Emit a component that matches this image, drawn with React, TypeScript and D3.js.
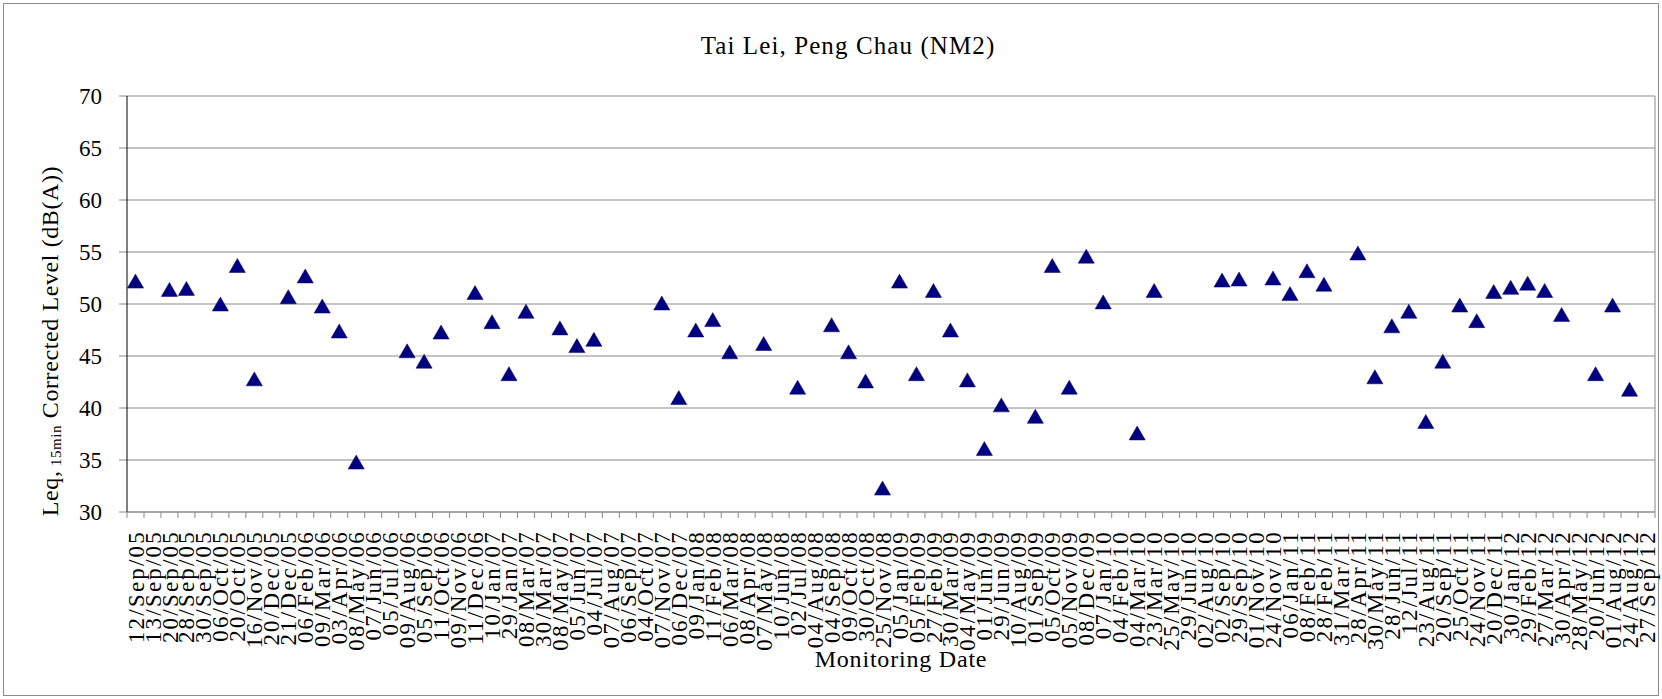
import React from "react";
import * as d3 from "d3";

const TITLE = "Tai Lei, Peng Chau (NM2)";
const X_TITLE = "Monitoring Date";

const dates: string[] = [
  "12/Sep/05", "13/Sep/05", "20/Sep/05", "28/Sep/05", "30/Sep/05", "06/Oct/05", "20/Oct/05", "16/Nov/05",
  "20/Dec/05", "21/Dec/05", "06/Feb/06", "09/Mar/06", "03/Apr/06", "08/May/06", "07/Jun/06", "05/Jul/06",
  "09/Aug/06", "05/Sep/06", "11/Oct/06", "09/Nov/06", "11/Dec/06", "10/Jan/07", "29/Jan/07", "08/Mar/07",
  "30/Mar/07", "08/May/07", "05/Jun/07", "04/Jul/07", "07/Aug/07", "06/Sep/07", "04/Oct/07", "07/Nov/07",
  "06/Dec/07", "09/Jan/08", "11/Feb/08", "06/Mar/08", "08/Apr/08", "07/May/08", "10/Jun/08", "02/Jul/08",
  "04/Aug/08", "04/Sep/08", "09/Oct/08", "30/Oct/08", "25/Nov/08", "05/Jan/09", "05/Feb/09", "27/Feb/09",
  "30/Mar/09", "04/May/09", "01/Jun/09", "29/Jun/09", "10/Aug/09", "01/Sep/09", "05/Oct/09", "05/Nov/09",
  "08/Dec/09", "07/Jan/10", "04/Feb/10", "04/Mar/10", "23/Mar/10", "25/May/10", "29/Jun/10", "02/Aug/10",
  "02/Sep/10", "29/Sep/10", "01/Nov/10", "24/Nov/10", "06/Jan/11", "08/Feb/11", "28/Feb/11", "31/Mar/11",
  "28/Apr/11", "30/May/11", "28/Jun/11", "12/Jul/11", "23/Aug/11", "20/Sep/11", "25/Oct/11", "24/Nov/11",
  "20/Dec/11", "30/Jan/12", "29/Feb/12", "27/Mar/12", "30/Apr/12", "28/May/12", "20/Jun/12", "01/Aug/12",
  "24/Aug/12", "27/Sep/12",
];

const leq: (number | null)[] = [
  52.2, null, 51.4, 51.5, null, 50.0, 53.7, 42.8,
  null, 50.7, 52.7, 49.8, 47.4, 34.8, null, null,
  45.5, 44.5, 47.3, null, 51.1, 48.3, 43.3, 49.3,
  null, 47.7, 46.0, 46.6, null, null, null, 50.1,
  41.0, 47.5, 48.5, 45.4, null, 46.2, null, 42.0,
  null, 48.0, 45.4, 42.6, 32.3, 52.2, 43.3, 51.3,
  47.5, 42.7, 36.1, 40.3, null, 39.2, 53.7, 42.0,
  54.6, 50.2, null, 37.6, 51.3, null, null, null,
  52.3, 52.4, null, 52.5, 51.0, 53.2, 51.9, null,
  54.9, 43.0, 47.9, 49.3, 38.7, 44.5, 49.9, 48.4,
  51.2, 51.6, 52.0, 51.3, 49.0, null, 43.3, 49.9,
  41.8, null,
];

const yTicks: number[] = [30, 35, 40, 45, 50, 55, 60, 65, 70];

const W = 1662;
const H = 699;
const FONT = "'Liberation Serif', 'Times New Roman', serif";

export default function App() {
  const left = 127, right = 1655, top = 96, bottom = 512;
  const x = d3.scaleBand<string>().domain(dates).range([left, right]).padding(0);
  const y = d3.scaleLinear().domain([30, 70]).range([bottom, top]);
  const bw = x.bandwidth();
  const triSize = 113;
  const tri = d3.symbol().type(d3.symbolTriangle).size(triSize)() as string;
  const r = Math.sqrt(triSize / (Math.sqrt(3) * 3));

  const boundaries = d3.range(dates.length + 1).map((i) => left + i * bw);
  const pts = dates
    .map((d, i) => ({ d, v: leq[i] }))
    .filter((p) => p.v !== null) as { d: string; v: number }[];

  return (
    <svg
      width={W}
      height={H}
      style={{ position: "absolute", left: 0, top: 0, background: "#fff" }}
      fontFamily={FONT}
    >
      <rect x={3.5} y={3.5} width={1655} height={692} fill="#fff" stroke="#8c8c8c" strokeWidth={1} />

      <text x={848} y={54} textAnchor="middle" fontSize={25} letterSpacing={1.1} fill="#000">
        {TITLE}
      </text>

      {/* gridlines */}
      {yTicks.map((t) => (
        <line key={"g" + t} x1={left - 8} x2={right} y1={y(t)} y2={y(t)} stroke="#8a8a8a" strokeWidth={1} />
      ))}
      {/* plot right border */}
      <line x1={right} x2={right} y1={top} y2={bottom} stroke="#8a8a8a" strokeWidth={1} />
      {/* y axis */}
      <line x1={left} x2={left} y1={top} y2={bottom} stroke="#000" strokeWidth={1} />
      {/* x axis */}
      <line x1={left} x2={right} y1={bottom} y2={bottom} stroke="#8a8a8a" strokeWidth={1.2} />
      {boundaries.map((bx, i) => (
        <line key={"t" + i} x1={bx} x2={bx} y1={bottom} y2={bottom + 6} stroke="#8a8a8a" strokeWidth={1} />
      ))}

      {/* y tick labels */}
      {yTicks.map((t) => (
        <text key={"yl" + t} x={102} y={y(t)} dy="0.35em" textAnchor="end" fontSize={23} fill="#000">
          {t}
        </text>
      ))}

      {/* x tick labels */}
      {dates.map((d) => {
        const cx = (x(d) as number) + bw / 2;
        return (
          <text
            key={"xl" + d}
            transform={`translate(${cx},530) rotate(-90)`}
            dy="0.35em"
            textAnchor="end"
            fontSize={23}
            letterSpacing={2.2}
            fill="#000"
          >
            {d}
          </text>
        );
      })}

      {/* y axis title */}
      <text transform="translate(58,341) rotate(-90)" textAnchor="middle" fontSize={24} letterSpacing={0.6} fill="#000">
        Leq,
        <tspan fontSize={15} dy={3}> 15min</tspan>
        <tspan dy={-3}> Corrected Level (dB(A))</tspan>
      </text>

      {/* x axis title */}
      <text x={901} y={667} textAnchor="middle" fontSize={24} letterSpacing={0.8} fill="#000">
        {X_TITLE}
      </text>

      {/* markers */}
      {pts.map((p) => (
        <path
          key={"p" + p.d}
          d={tri}
          transform={`translate(${(x(p.d) as number) + bw / 2},${y(p.v) + r / 2})`}
          fill="#000080"
          stroke="#000066"
          strokeWidth={0.5}
        />
      ))}
    </svg>
  );
}
